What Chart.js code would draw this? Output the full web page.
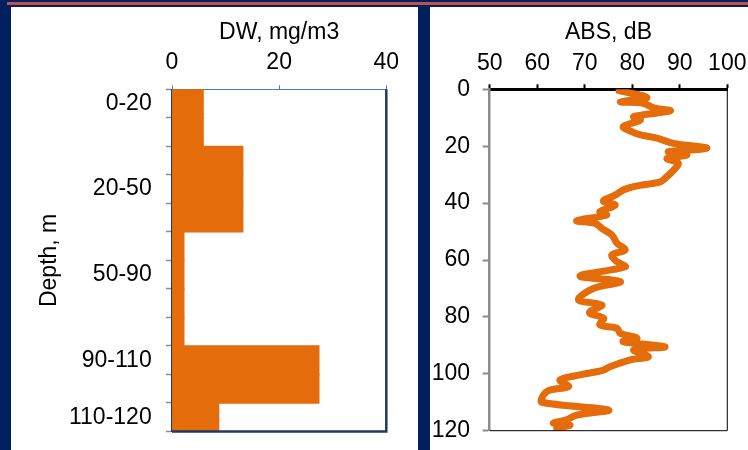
<!DOCTYPE html>
<html><head><meta charset="utf-8">
<script src="https://cdn.jsdelivr.net/npm/chart.js@4"></script>
<style>
html,body{margin:0;padding:0;}
body{width:748px;height:450px;background:#002060;position:relative;overflow:hidden;}
#redline{position:absolute;left:7px;top:2px;width:741px;height:3px;background:#C0504D;}
.panel{position:absolute;top:7px;height:443px;background:#fff;}
#p1{left:11px;width:407px;}
#p2{left:430px;width:318px;}
canvas{display:block;}
</style></head><body>
<div id="redline"></div>
<div class="panel" id="p1"><canvas id="c1" width="407" height="443"></canvas></div>
<div class="panel" id="p2"><canvas id="c2" width="318" height="443"></canvas></div>
<script>
// ---- Left chart data: DW per 10 m depth row ----
const depthCategories = ['0-20','','','20-50','','','50-90','','','90-110','','110-120'];
const dwValues = [5.8,5.8,13.2,13.2,13.2,2.2,2.2,2.2,2.2,27.4,27.4,8.7];
const dwTicks = [0,20,40];

// ---- Right chart data: ABS profile ----
const absDepths = [0.5,2.9,4.4,4.9,6.5,7.6,9.6,10.8,13.1,14.9,16.0,17.2,19.0,20.7,21.9,23.1,24.3,26.0,28.4,31.3,32.5,34.2,35.4,37.2,39.3,40.7,43.0,44.2,46.2,47.1,48.9,51.2,54.1,56.5,58.2,60.6,62.4,65.6,67.6,70.0,74.0,75.8,78.5,80.5,82.8,84.0,85.8,87.5,88.7,90.5,91.6,94.0,95.1,97.5,98.7,100.4,102.2,104.5,105.7,107.5,110.0,112.7,114.5,116.2,117.4,118.0,119.2];
const absValues = [77.2,83.1,77.5,82.3,84.5,88.0,80.3,81.7,78.1,79.9,81.7,85.2,88.7,95.7,87.6,91.5,87.3,89.7,88.7,86.9,85.9,80.3,78.1,76.4,73.9,76.4,73.2,74.6,68.3,72.2,73.6,75.7,76.8,78.5,75.7,76.8,78.5,69.0,77.5,71.8,68.7,73.6,71.0,74.0,73.2,76.8,77.5,81.0,78.1,86.9,80.3,83.4,79.6,75.3,73.9,69.0,64.8,66.6,62.7,61.3,61.0,75.0,68.3,66.2,63.4,66.9,64.1];
const absTicks = [50,60,70,80,90,100];
const depthTicks = [0,20,40,60,80,100,120];

const font = {family:'"Liberation Sans", Arial, sans-serif', size:23};

function frame(color, width){
  return {
    id:'frame',
    afterDatasetsDraw(chart){
      const {ctx, chartArea:a} = chart;
      ctx.save();
      ctx.strokeStyle = color; ctx.lineWidth = width;
      ctx.beginPath();
      ctx.moveTo(a.right, a.top); ctx.lineTo(a.right, a.bottom); ctx.lineTo(a.left, a.bottom);
      ctx.stroke();
      ctx.restore();
    }
  };
}

new Chart(document.getElementById('c1'), {
  type:'bar',
  data:{labels:depthCategories, datasets:[{data:dwValues, backgroundColor:'#E46C0A', borderWidth:0, barPercentage:1, categoryPercentage:1, inflateAmount:0.7}]},
  options:{
    indexAxis:'y', responsive:false, animation:false,
    layout:{padding:{left:0, top:0, right:31.7, bottom:18.5}},
    plugins:{legend:{display:false}, tooltip:{enabled:false}},
    scales:{
      x:{position:'top', min:0, max:40,
        afterBuildTicks:s=>{s.ticks = dwTicks.map(v=>({value:v}));},
        ticks:{font, color:'#000', padding:8.5, maxRotation:0},
        grid:{drawOnChartArea:false, tickLength:4, color:'#4A7EBB', tickColor:'#4A7EBB', tickWidth:1},
        border:{color:'#4A7EBB', width:1},
        title:{display:true, text:'DW, mg/m3', font, color:'#000', padding:{top:12, bottom:0}},
        afterFit:s=>{s.height = 82.3; s.paddingLeft = 0; s.paddingRight = 0;}
      },
      y:{z:1,
        ticks:{autoSkip:false, font, color:'#000', padding:14.3},
        grid:{drawOnChartArea:false, tickLength:6, tickColor:'#8C8C8C', tickWidth:1.5, offset:true},
        border:{color:'#1F3864', width:1.5},
        title:{display:true, text:'Depth, m', font, color:'#000', padding:{top:25, bottom:0}},
        afterFit:s=>{s.width = 161; s.paddingTop = 0; s.paddingBottom = 0;}
      }
    }
  },
  plugins:[frame('#1F3864', 2.5)]
});

new Chart(document.getElementById('c2'), {
  type:'scatter',
  data:{datasets:[{
    data:absDepths.map((d,i)=>({x:absValues[i], y:d})),
    showLine:true, borderColor:'#E46C0A', borderWidth:7, pointRadius:0,
    tension:0.35, borderCapStyle:'round', borderJoinStyle:'round'
  }]},
  options:{
    responsive:false, animation:false,
    layout:{padding:{left:0, top:0, right:20.7, bottom:19.3}},
    plugins:{legend:{display:false}, tooltip:{enabled:false}},
    scales:{
      x:{type:'linear', position:'top', min:50, max:100, z:1,
        afterBuildTicks:s=>{s.ticks = absTicks.map(v=>({value:v}));},
        ticks:{font, color:'#000', padding:7, maxRotation:0},
        grid:{drawOnChartArea:false, tickLength:5, tickColor:'#000', tickWidth:2},
        border:{color:'#000', width:3},
        title:{display:true, text:'ABS, dB', font, color:'#000', padding:{top:11.7, bottom:0}},
        afterFit:s=>{s.height = 82.3; s.paddingLeft = 0; s.paddingRight = 0;}
      },
      y:{type:'linear', reverse:true, min:0, max:120,
        afterBuildTicks:s=>{s.ticks = depthTicks.map(v=>({value:v}));},
        ticks:{font, color:'#000', padding:12.7},
        grid:{drawOnChartArea:false, tickLength:7, tickColor:'#8C8C8C', tickWidth:2},
        border:{color:'#8C8C8C', width:2.5},
        afterFit:s=>{s.width = 59.7; s.paddingTop = 0; s.paddingBottom = 0;}
      }
    }
  },
  plugins:[frame('#000', 1)]
});
</script>
</body></html>
